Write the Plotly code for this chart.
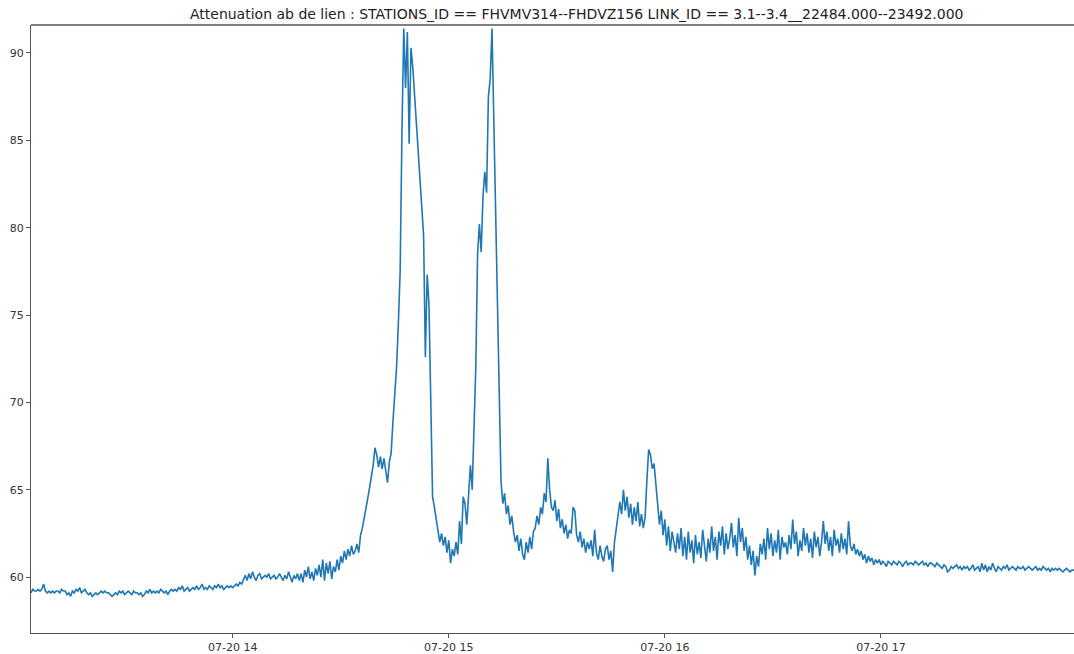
import pandas as pd
import plotly.graph_objects as go

TITLE = ("Attenuation ab de lien : STATIONS_ID == FHVMV314--FHDVZ156 "
         "LINK_ID == 3.1--3.4__22484.000--23492.000")
START = "2023-07-20 13:04:00"
STEP = "30s"

attenuation = [
    59.1, 59.3, 59.2, 59.2, 59.3, 59.2, 59.3, 59.6, 59.2, 59.1,
    59.2, 59.1, 59.2, 59.1, 59.2, 59.2, 59.1, 59.3, 59.2, 59.2,
    59.0, 59.1, 58.9, 59.2, 59.1, 59.3, 59.2, 59.4, 59.1, 59.2,
    59.3, 59.1, 59.0, 59.1, 58.9, 59.0, 59.1, 59.0, 59.1, 59.2,
    59.1, 59.2, 59.1, 59.1, 59.0, 58.9, 59.0, 59.1, 59.0, 59.2,
    59.1, 59.2, 59.0, 59.1, 59.2, 59.1, 59.0, 59.2, 59.1, 59.1,
    59.0, 59.1, 58.9, 59.0, 59.2, 59.1, 59.3, 59.1, 59.2, 59.1,
    59.2, 59.1, 59.3, 59.2, 59.1, 59.2, 59.0, 59.2, 59.3, 59.2,
    59.3, 59.2, 59.4, 59.3, 59.5, 59.2, 59.3, 59.4, 59.2, 59.3,
    59.4, 59.3, 59.5, 59.3, 59.4, 59.6, 59.3, 59.4, 59.3, 59.5,
    59.4, 59.3, 59.5, 59.4, 59.6, 59.4, 59.5, 59.3, 59.4, 59.5,
    59.4, 59.5, 59.4, 59.5, 59.6, 59.5, 59.7, 59.6, 59.9, 60.1,
    59.8, 60.2, 59.9, 60.3, 60.0, 59.8, 60.1, 60.2, 59.9, 60.0,
    60.1, 60.0, 60.2, 59.9, 60.0, 60.1, 59.9, 60.0, 60.2, 60.0,
    59.8, 60.1, 59.9, 60.3, 60.0, 59.7, 60.1, 59.9, 60.2, 59.8,
    60.2, 59.7, 60.4, 60.0, 60.6, 59.9, 60.3, 59.8, 60.5, 60.1,
    60.7, 60.0, 61.0, 59.8, 60.8, 60.2, 60.9, 59.9, 60.6, 60.3,
    61.0, 60.4, 61.2, 60.8, 61.5, 61.0, 61.6, 61.2, 61.8, 61.3,
    61.5, 61.9, 61.4, 62.4, 62.8, 63.3, 63.9, 64.5, 65.1, 65.8,
    66.4, 67.4, 67.0, 66.3, 66.9, 66.2, 66.8, 66.1, 65.4, 66.6,
    67.1, 68.9, 70.5, 72.0, 74.5, 77.5, 85.5, 91.4, 88.0, 91.2,
    84.8, 90.3, 89.2, 87.6, 86.1, 84.6, 83.0, 81.4, 79.6, 72.6,
    77.3, 75.6, 70.0, 64.6, 64.0, 63.3, 62.6, 62.0, 62.5, 61.8,
    62.3, 61.4, 62.1, 60.8, 61.6, 61.2, 62.0, 61.3, 63.2, 61.9,
    64.6, 64.2, 63.0, 64.8, 66.4, 65.0, 68.0, 72.0, 78.5, 80.2,
    78.6, 81.8, 83.2, 82.0, 87.5, 88.5, 91.4, 86.2, 82.0, 76.0,
    70.0, 65.5, 64.2, 64.8, 63.6, 64.1, 63.0, 63.5, 62.6, 62.0,
    62.4, 61.5, 62.2, 61.3, 61.0, 62.0, 61.4, 62.3, 61.6, 62.6,
    62.8, 63.5, 63.0, 64.0, 63.6, 64.8, 64.3, 66.8, 65.0, 64.0,
    63.8, 64.4, 63.2, 63.9, 62.8, 63.3, 62.5, 63.0, 62.2, 62.7,
    62.5, 64.0, 63.8, 62.4, 62.0, 62.6, 61.7, 62.2, 61.4, 62.0,
    61.6, 62.1, 61.2, 62.7, 61.4, 61.0, 61.8, 61.2, 60.9, 61.6,
    61.8, 61.0, 61.5, 60.3, 62.0, 62.8, 63.5, 64.3, 63.6, 65.0,
    63.8, 64.6, 63.4, 64.2, 63.0, 64.0, 63.2, 64.3, 62.9, 63.6,
    62.8, 63.4, 65.5, 67.3, 67.0, 66.2, 66.5, 65.4, 64.2, 63.0,
    63.8, 62.4, 63.3, 61.8, 62.9, 61.5, 62.6, 62.0, 61.4, 62.5,
    61.6, 62.8, 61.2, 62.3, 61.0, 62.6, 61.4, 62.1, 60.8, 62.4,
    61.3, 62.0, 61.1, 62.7, 61.6, 60.9, 62.2, 61.4, 62.9, 61.5,
    62.3, 61.0, 62.6, 61.8, 62.9, 61.3, 62.5, 61.6, 62.2, 63.1,
    61.7, 62.4, 61.2, 63.4, 62.0, 62.8, 61.5, 62.3, 61.0, 61.8,
    60.7, 61.5, 60.1, 61.2, 60.6, 61.9, 61.3, 62.2, 61.0, 62.8,
    61.6, 62.5, 61.2, 62.1, 61.4, 62.7, 61.0, 62.3, 61.7, 62.0,
    61.3, 62.4, 61.6, 63.3, 61.9, 62.6, 61.2, 62.1, 61.5, 62.8,
    61.8, 62.5, 61.4, 62.2, 61.1, 62.6, 61.7, 62.3, 61.2, 62.0,
    63.2, 61.9, 62.6, 61.5, 62.3, 61.2, 62.7, 61.8, 62.2, 61.4,
    62.5, 61.6, 62.2, 61.3, 63.2, 61.8, 61.5, 61.9, 61.3, 61.6,
    61.2, 61.5, 61.0, 61.3, 60.8, 61.2, 60.9, 61.1, 60.7, 61.0,
    60.8, 61.0, 60.7, 60.9, 60.8, 60.6, 60.9, 60.8, 60.7, 60.9,
    60.8, 60.7, 60.9, 60.8, 60.6, 60.8, 60.9, 60.7, 60.8, 60.8,
    60.7, 60.9, 60.8, 60.7, 60.8, 60.9, 60.7, 60.8, 60.6, 60.8,
    60.8, 60.7, 60.6, 60.8, 60.7, 60.6, 60.5, 60.7, 60.6, 60.3,
    60.4, 60.6, 60.5, 60.6, 60.7, 60.5, 60.6, 60.4, 60.6, 60.5,
    60.6, 60.4, 60.5, 60.7, 60.4, 60.5, 60.6, 60.3, 60.8, 60.4,
    60.7, 60.3, 60.6, 60.4, 60.8, 60.5, 60.3, 60.6, 60.5, 60.4,
    60.6, 60.5, 60.7, 60.4, 60.5, 60.6, 60.5, 60.4, 60.6, 60.5,
    60.5, 60.6, 60.4, 60.5, 60.6, 60.5, 60.4, 60.5, 60.6, 60.4,
    60.5, 60.4, 60.6, 60.5, 60.4, 60.5, 60.3, 60.5, 60.4, 60.5,
    60.4, 60.5, 60.4, 60.3, 60.4, 60.5, 60.4, 60.3, 60.4, 60.4,
    60.4, 60.3, 60.4, 60.4, 60.3, 60.4, 60.3, 60.4, 60.3, 60.4,
]

x_tick_values = ["2023-07-20 14:00", "2023-07-20 15:00",
                 "2023-07-20 16:00", "2023-07-20 17:00"]
x_tick_labels = ["07-20 14", "07-20 15", "07-20 16", "07-20 17"]
y_tick_values = [60, 65, 70, 75, 80, 85, 90]
x_range = ["2023-07-20 13:04:00", "2023-07-20 17:53:36"]
y_range = [56.8, 91.6]

times = pd.date_range(START, periods=len(attenuation), freq=STEP)

fig = go.Figure(go.Scatter(
    x=times, y=attenuation, mode="lines",
    line=dict(color="#1f77b4", width=1.6),
))

axis_common = dict(
    showgrid=False, zeroline=False, showline=True, linecolor="#555555",
    linewidth=1, ticks="outside", ticklen=4, tickcolor="#555555",
    tickfont=dict(family="DejaVu Sans", size=11, color="#333333"),
)

fig.update_layout(
    width=1074, height=654,
    margin=dict(l=31, r=0, t=25, b=21, autoexpand=False),
    paper_bgcolor="white", plot_bgcolor="white",
    showlegend=False,
    title=dict(text=TITLE, x=0.537, xref="container", xanchor="center",
               y=1 - 14 / 654, yref="container", yanchor="middle",
               font=dict(family="DejaVu Sans", size=14, color="#222222")),
    xaxis=dict(range=x_range, tickvals=x_tick_values, ticktext=x_tick_labels,
               **axis_common),
    yaxis=dict(range=y_range, tickvals=y_tick_values, **axis_common),
    shapes=[dict(type="line", xref="paper", yref="paper",
                 x0=0, x1=1, y0=1, y1=1,
                 line=dict(color="#555555", width=1.5))],
)

fig.write_html(
    "out.html",
    config={"displayModeBar": False},
    post_script="document.body.style.margin='0';"
                "document.body.style.overflow='hidden';",
)
